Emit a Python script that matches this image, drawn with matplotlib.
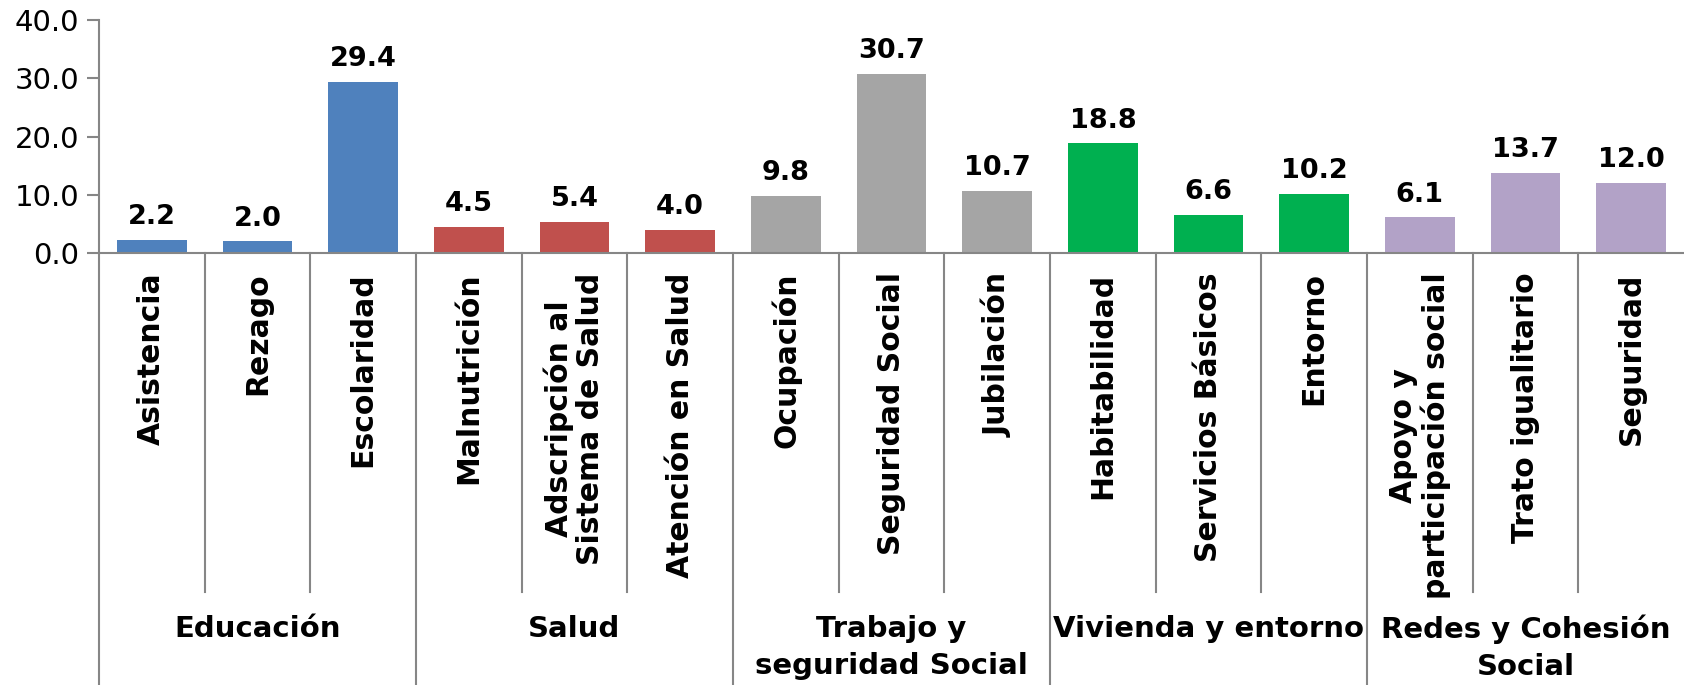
import matplotlib
matplotlib.use("Agg")
import matplotlib.pyplot as plt
import matplotlib.transforms as mtransforms

# indicator names, grouped by dimension
categories = [
    "Asistencia", "Rezago", "Escolaridad",
    "Malnutrición", "Adscripción al\nSistema de Salud", "Atención en Salud",
    "Ocupación", "Seguridad Social", "Jubilación",
    "Habitabilidad", "Servicios Básicos", "Entorno",
    "Apoyo y\nparticipación social", "Trato igualitario", "Seguridad",
]
values = [2.2, 2.0, 29.4, 4.5, 5.4, 4.0, 9.8, 30.7, 10.7, 18.8, 6.6, 10.2, 6.1, 13.7, 12.0]

groups = ["Educación", "Salud", "Trabajo y\nseguridad Social", "Vivienda y entorno", "Redes y Cohesión\nSocial"]
group_sizes = [3, 3, 3, 3, 3]
group_colors = ["#4F81BD", "#C0504D", "#A5A5A5", "#00B050", "#B2A2C7"]

yticks = [0, 10, 20, 30, 40]

axis_color = "#868686"

bar_colors = []
for c, n in zip(group_colors, group_sizes):
    bar_colors += [c] * n

fig = plt.figure(figsize=(16.84, 6.85), dpi=100)
ax = fig.add_axes([99 / 1684, (685 - 253) / 685, 1 - 99 / 1684, (253 - 20) / 685])

x = list(range(len(values)))
ax.bar(x, values, width=0.66, color=bar_colors, zorder=2)

for xi, v in zip(x, values):
    ax.annotate(f"{v:.1f}", (xi, v), xytext=(0, 7), textcoords="offset points",
                ha="center", va="bottom", fontsize=19.5, fontweight="bold")

ax.set_xlim(-0.5, len(values) - 0.5)
ax.set_ylim(0, 40)
ax.set_yticks(yticks)
ax.set_yticklabels([f"{t:.1f}" for t in yticks], fontsize=21)
ax.tick_params(axis="y", length=9, width=1.5, color=axis_color, pad=5)

ax.set_xticks(x)
ax.set_xticklabels(categories, rotation=90, fontsize=21.5, fontweight="bold",
                   va="top", ha="center", multialignment="center", linespacing=1.1)
ax.tick_params(axis="x", length=0, pad=14)

for side in ["top", "right"]:
    ax.spines[side].set_visible(False)
for side in ["left", "bottom"]:
    ax.spines[side].set_color(axis_color)
    ax.spines[side].set_linewidth(1.5)

# separators under the axis: short between indicators, long between groups
trans = mtransforms.blended_transform_factory(ax.transData, ax.transAxes)
inner_bottom = -(592 - 253) / 233
outer_bottom = -(685 - 253) / 233
pos = 0
boundaries = []
for n in group_sizes:
    for k in range(1, n):
        ax.plot([pos + k - 0.5] * 2, [0, inner_bottom], transform=trans,
                color=axis_color, lw=1.5, clip_on=False)
    boundaries.append((pos - 0.5, pos + n - 0.5))
    pos += n

for left, right in boundaries:
    ax.plot([left, left], [0, outer_bottom], transform=trans,
            color=axis_color, lw=1.5, clip_on=False)

group_y = -(615 - 253) / 233
for (left, right), name in zip(boundaries, groups):
    ax.text((left + right) / 2, group_y, name, transform=trans, ha="center", va="top",
            fontsize=21, fontweight="bold", multialignment="center", linespacing=1.4)

fig.savefig("out.png", dpi=100)
